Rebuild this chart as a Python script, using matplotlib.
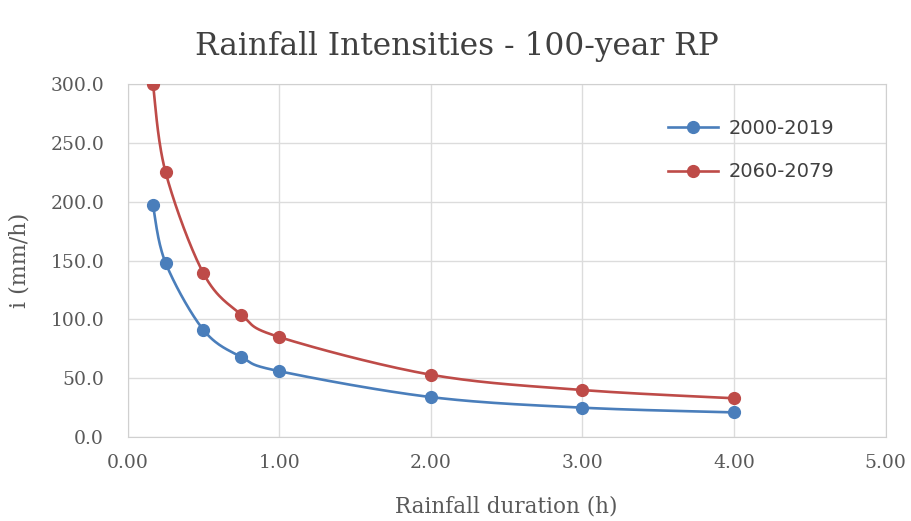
import numpy as np
import matplotlib.pyplot as plt

duration = [1/6, 0.25, 0.5, 0.75, 1.0, 2.0, 3.0, 4.0]
i_2000_2019 = [197, 148, 91, 68, 56, 34, 25, 21]
i_2060_2079 = [300, 225, 139, 104, 85, 53, 40, 33]
series_names = ['2000-2019', '2060-2079']
series_colors = ['#4a7ebb', '#be4b48']

SERIF = 'DejaVu Serif'


def smooth(x, y, n=30):
    # Excel-style smoothed line: cubic Bezier with Catmull-Rom control points
    x = np.asarray(x, float)
    y = np.asarray(y, float)
    px = np.concatenate([[x[0]], x, [x[-1]]])
    py = np.concatenate([[y[0]], y, [y[-1]]])
    xs, ys = [], []
    t = np.linspace(0, 1, n)
    for k in range(1, len(px) - 2):
        p0 = np.array([px[k], py[k]])
        p3 = np.array([px[k + 1], py[k + 1]])
        c1 = p0 + (np.array([px[k + 1], py[k + 1]]) - np.array([px[k - 1], py[k - 1]])) / 6
        c2 = p3 - (np.array([px[k + 2], py[k + 2]]) - np.array([px[k], py[k]])) / 6
        b = ((1 - t) ** 3)[:, None] * p0 + (3 * (1 - t) ** 2 * t)[:, None] * c1 \
            + (3 * (1 - t) * t ** 2)[:, None] * c2 + (t ** 3)[:, None] * p3
        xs.extend(b[:, 0])
        ys.extend(b[:, 1])
    return xs, ys


fig = plt.figure(figsize=(9.12, 5.21), dpi=100)
ax = fig.add_axes([0.140, 0.161, 0.831, 0.678])

for vals, name, col in zip([i_2000_2019, i_2060_2079], series_names, series_colors):
    sx, sy = smooth(duration, vals)
    ax.plot(sx, sy, color=col, lw=1.9, zorder=3)
    ax.plot(duration, vals, 'o', color=col, ms=8.5, zorder=4)
    ax.plot([], [], '-o', color=col, lw=1.9, ms=8.5, label=name)

ax.set_xlim(0, 5)
ax.set_ylim(0, 300)
ax.set_xticks(np.arange(0, 5.01, 1))
ax.set_yticks(np.arange(0, 301, 50))
ax.set_xticklabels([f'{v:.2f}' for v in np.arange(0, 5.01, 1)])
ax.set_yticklabels([f'{v:.1f}' for v in np.arange(0, 301, 50)])
ax.grid(True, color='#dcdcdc', lw=1)
ax.set_axisbelow(True)
for s in ax.spines.values():
    s.set_color('#d0d0d0')
ax.tick_params(length=0, labelsize=13.5, colors='#595959')
ax.tick_params(axis='x', pad=12)
ax.tick_params(axis='y', pad=17)
for lab in ax.get_xticklabels() + ax.get_yticklabels():
    lab.set_family(SERIF)

fig.suptitle('Rainfall Intensities - 100-year RP', family=SERIF,
             fontsize=22.5, color='#404040', x=0.501, y=0.91, va='center')
ax.set_xlabel('Rainfall duration (h)', family=SERIF, fontsize=15.5,
              color='#595959', labelpad=17)
ax.set_ylabel('i (mm/h)', family=SERIF, fontsize=16,
              color='#595959', labelpad=14)

leg = ax.legend(loc='upper right', bbox_to_anchor=(0.955, 0.95), frameon=False,
                prop={'family': 'DejaVu Sans', 'size': 14}, labelspacing=1.25,
                handlelength=2.6, handletextpad=0.5)
for t in leg.get_texts():
    t.set_color('#404040')

fig.savefig('out.png', dpi=100)
